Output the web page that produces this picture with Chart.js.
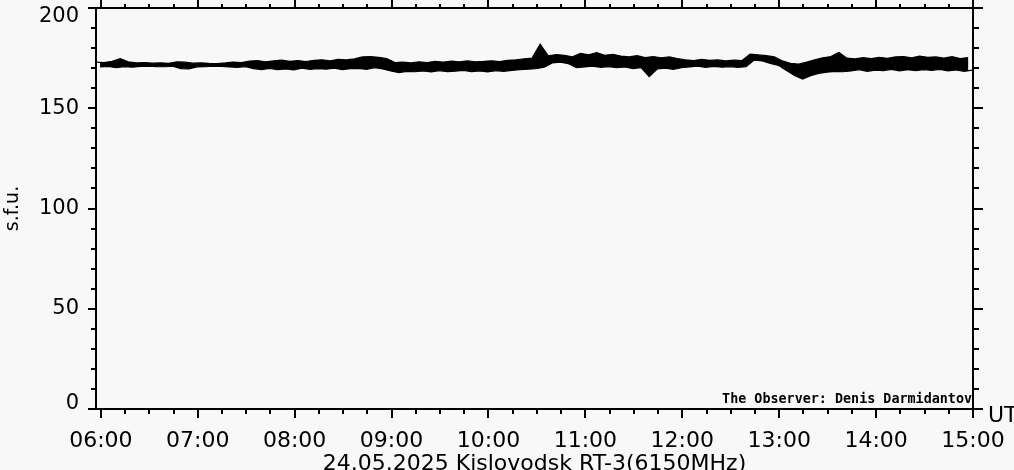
<!DOCTYPE html>
<html>
<head>
<meta charset="utf-8">
<script src="https://cdn.jsdelivr.net/npm/chart.js@4"></script>
<style>
  html, body { margin: 0; padding: 0; background: #f8f8f8; }
</style>
</head>
<body>
<canvas id="myChart" width="1014" height="470"></canvas>
<script>
// time in minutes after midnight (UT)
const hourTicks = [360, 420, 480, 540, 600, 660, 720, 780, 840, 900]
const yTicks = [0, 50, 100, 150, 200]
const startMin = 357
const stepMin = 5

// upper / lower edge of the noise band, one pair every 5 minutes (s.f.u.)
const upper = [
  173, 172.8, 173.4, 174.8, 173.2, 172.6, 172.8, 172.5, 172.6, 172.4, 173.2, 173, 172.5, 172.6, 172.4, 172.3, 172.6, 173, 172.8,
  173.5, 173.8, 173.2, 173.6, 174, 173.4, 173.8, 173.3, 173.9, 174.2, 173.6, 174.4, 174.1, 174.6, 175.6, 175.8, 175.4, 174.8,
  172.8, 173, 172.6, 173.2, 172.8, 173.4, 173, 173.5, 173.1, 173.6, 173.2, 173.4, 173.7, 173.3, 173.9, 174.2, 174.6, 175, 182,
  176.2, 176.8, 176.4, 175.6, 177.4, 176.6, 177.8, 176.4, 176.9, 176, 175.6, 176.2, 175.3, 175.8, 175.2, 175.6, 174.8,
  174.2, 173.8, 174.4, 173.9, 174.1, 173.6, 174, 173.8, 177, 176.6, 176.2, 175.6, 173.6, 172.4, 172, 173, 174.2, 175.2, 175.8,
  177.8, 175, 174.6, 175.2, 174.8, 175.4, 174.9, 175.6, 175.8, 175.2, 176, 175.4, 175.6, 175, 175.7, 174.8, 175.3
]
const lower = [
  170.6, 170.9, 170.2, 170.8, 170.5, 170.9, 171, 170.8, 170.7, 171, 169.8, 169.6, 170.6, 170.7, 171, 170.9, 170.6, 170.4, 170.8,
  169.8, 169.3, 169.9, 169.2, 169.6, 169.1, 170, 169.4, 169.8, 169.5, 170, 169.3, 169.7, 169.9, 169.4, 170.2, 169.6, 168.6,
  167.8, 168.4, 168.2, 168.6, 168.1, 168.7, 168.3, 168.5, 168.9, 168.2, 168.6, 168.1, 168.7, 168.4, 168.9, 169.2, 169.5, 169.8, 170.5,
  172.6, 173, 172.2, 170.2, 170.6, 171, 170.4, 170.8, 170.2, 170.6, 169.8, 170.3, 165.8, 169.6, 170, 169.4, 170.2,
  170.6, 171, 170.4, 170.9, 170.5, 170.8, 170.4, 170.7, 174, 173.6, 172.4, 171.4, 168.8, 166.4, 164.6, 166.2, 167.4, 168, 168.4,
  168.2, 168.6, 169.2, 168.4, 169, 168.8, 169.4, 168.6, 169.2, 168.7, 169.3, 168.9, 169.4, 168.6, 169.1, 168.4, 169
]

const upperPts = upper.map((v, i) => ({x: startMin + i * stepMin, y: v}))
const lowerPts = lower.map((v, i) => ({x: startMin + i * stepMin + stepMin / 2, y: v}))

const fmtTime = (m) => {
  const h = Math.floor(m / 60), mm = m % 60
  return String(h).padStart(2, '0') + ':' + String(mm).padStart(2, '0')
}

// frame, minor ticks and the extra texts
const framePlugin = {
  id: 'frame',
  afterDraw(chart) {
    const {ctx, chartArea: a, scales: {x, y}} = chart
    ctx.save()
    ctx.strokeStyle = '#000'
    ctx.lineWidth = 2
    ctx.strokeRect(a.left, a.top, a.right - a.left, a.bottom - a.top)
    ctx.beginPath()
    for (let v = 0; v <= 200; v += 10) {
      const py = Math.round(y.getPixelForValue(v))
      const major = v % 50 === 0
      ctx.moveTo(a.left - (major ? 8 : 5), py)
      ctx.lineTo(a.left, py)
      ctx.moveTo(a.right, py)
      ctx.lineTo(a.right + (major ? 10 : 6), py)
    }
    for (let m = 360; m <= 900; m += 15) {
      const px = Math.round(x.getPixelForValue(m))
      const major = m % 60 === 0
      ctx.moveTo(px, a.bottom)
      ctx.lineTo(px, a.bottom + (major ? 9 : 5))
      ctx.moveTo(px, a.top)
      ctx.lineTo(px, a.top - (major ? 8 : 4))
    }
    ctx.stroke()

    ctx.fillStyle = '#000'
    ctx.font = '22px "DejaVu Sans"'
    ctx.textAlign = 'left'
    ctx.textBaseline = 'middle'
    ctx.fillText('UT', 988, 416)

    ctx.font = 'bold 13.4px "DejaVu Sans Mono"'
    ctx.textAlign = 'right'
    ctx.textBaseline = 'alphabetic'
    ctx.fillText('The Observer: Denis Darmidantov', a.right - 1, 403)
    ctx.restore()
  }
}

const ctx = document.getElementById('myChart')

const myChart = new Chart(ctx, {
  type: 'line',
  data: {
    datasets: [{
      data: upperPts,
      borderColor: '#000',
      borderWidth: 1.2,
      pointRadius: 0,
      tension: 0
    }, {
      data: lowerPts,
      borderColor: '#000',
      borderWidth: 1.2,
      backgroundColor: '#000',
      fill: '-1',
      pointRadius: 0,
      tension: 0
    }]
  },
  options: {
    responsive: false,
    animation: false,
    layout: { padding: { top: 8, right: 41, left: 0, bottom: 0 } },
    plugins: { legend: { display: false }, tooltip: { enabled: false } },
    scales: {
      x: {
        type: 'linear',
        min: startMin,
        max: 900,
        grid: { display: false, drawTicks: false },
        border: { display: false },
        afterBuildTicks: (axis) => { axis.ticks = hourTicks.map(v => ({value: v})) },
        afterFit: (axis) => { axis.height = 61; axis.paddingLeft = 0; axis.paddingRight = 0 },
        ticks: {
          autoSkip: false,
          maxRotation: 0,
          padding: 19,
          color: '#000',
          font: { family: 'DejaVu Sans', size: 22 },
          callback: (v) => fmtTime(v)
        },
        title: {
          display: true,
          text: '24.05.2025 Kislovodsk RT-3(6150MHz)',
          color: '#000',
          font: { family: 'DejaVu Sans', size: 22, lineHeight: 0.55 },
          padding: { top: 0, bottom: 0 }
        }
      },
      y: {
        min: 0,
        max: 200,
        grid: { display: false, drawTicks: false },
        border: { display: false },
        afterBuildTicks: (axis) => { axis.ticks = yTicks.map(v => ({value: v})) },
        afterFit: (axis) => { axis.width = 96; axis.paddingTop = 0; axis.paddingBottom = 0 },
        ticks: {
          padding: 17,
          color: '#000',
          font: (c) => {
            let lh = 1.2
            if (c.tick && c.tick.value === 200) lh = 0.85
            if (c.tick && c.tick.value === 0) lh = 0.5
            return { family: 'DejaVu Sans', size: 21, lineHeight: lh }
          },
          callback: (v) => v === 200 ? ['', '200'] : v === 0 ? ['0', ''] : String(v)
        },
        title: {
          display: true,
          text: 's.f.u.',
          color: '#000',
          font: { family: 'DejaVu Sans', size: 19, lineHeight: 1 },
          padding: { top: 4, bottom: 0 }
        }
      }
    }
  },
  plugins: [framePlugin]
})
</script>
</body>
</html>
